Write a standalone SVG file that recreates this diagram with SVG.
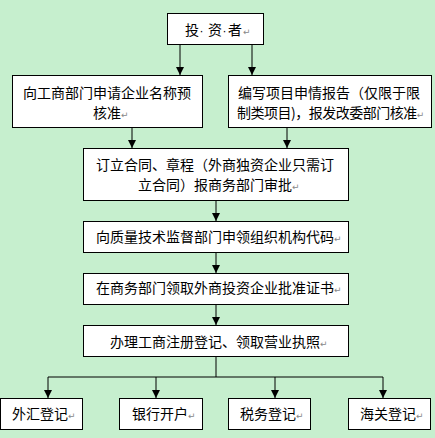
<svg xmlns="http://www.w3.org/2000/svg" width="435" height="438" viewBox="0 0 435 438">
<defs>
<style>
.box{fill:#fff;stroke:#000;stroke-width:1}
.t{font-family:"Noto Sans CJK SC","Noto Sans",sans-serif;font-size:14px;fill:#000}
.dot{font-family:"Liberation Sans",sans-serif;font-size:12px;fill:#000}
.rm{font-family:"DejaVu Sans",sans-serif;font-size:9px;fill:#888;letter-spacing:0}
.ln{fill:none;stroke:#000;stroke-width:1}
</style>
<marker id="ah" viewBox="0 0 8 8" markerUnits="userSpaceOnUse" markerWidth="8" markerHeight="8" refX="8" refY="4" orient="auto">
<path d="M0,0 L8,4 L0,8 z" fill="#000"/>
</marker>
</defs>
<rect x="0" y="0" width="435" height="438" fill="#C6EFCE"/>
<g id="connectors">
<line class="ln" x1="180" y1="44" x2="180" y2="75" marker-end="url(#ah)"/>
<line class="ln" x1="252" y1="44" x2="252" y2="75" marker-end="url(#ah)"/>
<line class="ln" x1="132" y1="127" x2="132" y2="148" marker-end="url(#ah)"/>
<line class="ln" x1="287" y1="127" x2="287" y2="148" marker-end="url(#ah)"/>
<line class="ln" x1="216" y1="200" x2="216" y2="221" marker-end="url(#ah)"/>
<line class="ln" x1="216" y1="252" x2="216" y2="273" marker-end="url(#ah)"/>
<line class="ln" x1="216" y1="304" x2="216" y2="325" marker-end="url(#ah)"/>
<polyline class="ln" points="216,356 216,377"/>
<polyline class="ln" points="48,377 383,377"/>
<line class="ln" x1="48" y1="377" x2="48" y2="398" marker-end="url(#ah)"/>
<line class="ln" x1="156" y1="377" x2="156" y2="398" marker-end="url(#ah)"/>
<line class="ln" x1="275" y1="377" x2="275" y2="398" marker-end="url(#ah)"/>
<line class="ln" x1="383" y1="377" x2="383" y2="398" marker-end="url(#ah)"/>
</g>
<g id="investor">
<rect class="box" x="167.5" y="13.5" width="96" height="31"/>
<text class="t" y="35"><tspan x="185">投</tspan><tspan class="dot" x="199.5">·</tspan><tspan x="208">资</tspan><tspan class="dot" x="222.5">·</tspan><tspan x="228">者</tspan><tspan class="rm" x="243">↵</tspan></text>
</g>
<g id="name-approval">
<rect class="box" x="12.5" y="75.5" width="190" height="52"/>
<text class="t" x="107" y="98" text-anchor="middle">向工商部门申请企业名称预</text>
<text class="t" x="93" y="118">核准<tspan class="rm">↵</tspan></text>
</g>
<g id="project-report">
<rect class="box" x="228.5" y="75.5" width="203" height="52"/>
<text class="t" x="238" y="98">编写项目申情报告（仅限于限</text>
<text class="t" x="237" y="118" letter-spacing="-0.5">制类项目)，报发改委部门核准<tspan class="rm">↵</tspan></text>
</g>
<g id="contract">
<rect class="box" x="83.5" y="148.5" width="265" height="52"/>
<text class="t" x="96" y="170">订立合同、章程（外商独资企业只需订</text>
<text class="t" x="138" y="190">立合同）报商务部门审批<tspan class="rm">↵</tspan></text>
</g>
<g id="org-code">
<rect class="box" x="83.5" y="221.5" width="265" height="31"/>
<text class="t" x="96" y="242">向质量技术监督部门申领组织机构代码<tspan class="rm">↵</tspan></text>
</g>
<g id="approval-cert">
<rect class="box" x="83.5" y="273.5" width="265" height="31"/>
<text class="t" x="96" y="293">在商务部门领取外商投资企业批准证书<tspan class="rm">↵</tspan></text>
</g>
<g id="license">
<rect class="box" x="83.5" y="325.5" width="265" height="31"/>
<text class="t" x="110" y="347">办理工商注册登记、领取营业执照<tspan class="rm">↵</tspan></text>
</g>
<g id="forex">
<rect class="box" x="0.5" y="398.5" width="82" height="31"/>
<text class="t" x="12" y="419">外汇登记<tspan class="rm">↵</tspan></text>
</g>
<g id="bank">
<rect class="box" x="119.5" y="398.5" width="83" height="31"/>
<text class="t" x="132" y="419">银行开户<tspan class="rm">↵</tspan></text>
</g>
<g id="tax">
<rect class="box" x="228.5" y="398.5" width="82" height="31"/>
<text class="t" x="240" y="419">税务登记<tspan class="rm">↵</tspan></text>
</g>
<g id="customs">
<rect class="box" x="348.5" y="398.5" width="82" height="31"/>
<text class="t" x="360" y="419">海关登记<tspan class="rm">↵</tspan></text>
</g>
</svg>
